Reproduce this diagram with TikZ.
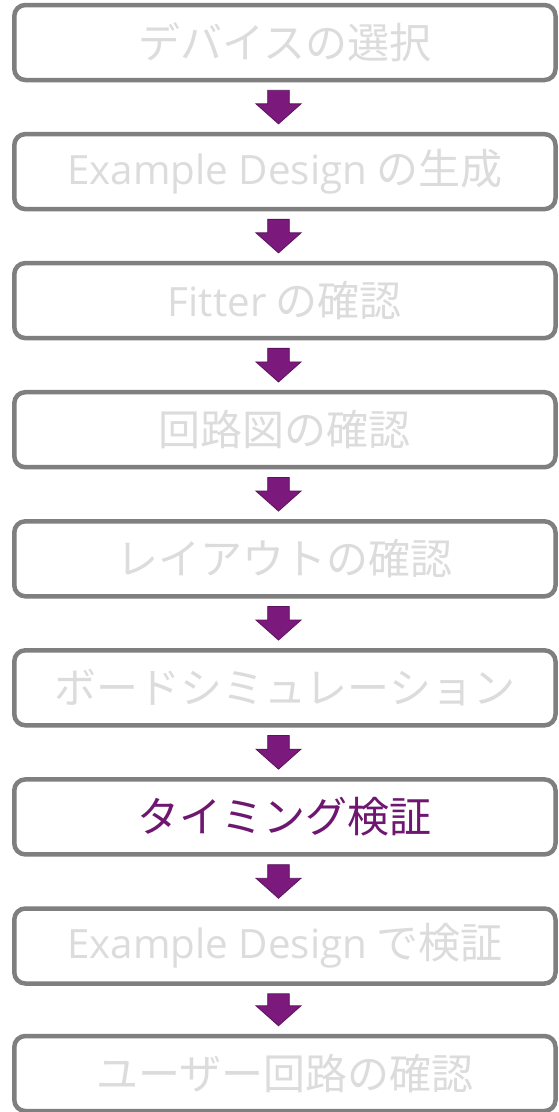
\documentclass[tikz,border=0pt]{standalone}
\usepackage{fontspec}
\setmainfont{Noto Sans CJK JP}
\newfontfamily\lat[Scale=0.96]{Open Sans}
\usetikzlibrary{calc}
\definecolor{boxgray}{HTML}{7F7F7F}
\definecolor{dimtext}{HTML}{DCDCDC}
\definecolor{activetext}{HTML}{6E1670}
\definecolor{arrowfill}{HTML}{7B1A7C}
\definecolor{arrowedge}{HTML}{5C125D}
\tikzset{
  stepbox/.style={draw=boxgray, line width=4.5pt, rounded corners=11pt, fill=white,
    minimum width=541.2pt, minimum height=75pt, inner sep=0pt,
    font=\fontsize{42}{50}\selectfont, text=dimtext},
  activebox/.style={stepbox, text=activetext},
  blockarrow/.style={fill=arrowfill, draw=arrowedge, line width=0.8pt, line join=miter}
}
\begin{document}
\begin{tikzpicture}[x=1pt,y=-1pt]
\useasboundingbox (0,0) rectangle (558,1112);
\fill[white] (0,0) rectangle (558,1112);
\node[stepbox] (b1) at (284.9, 42.5) {デバイスの選択};
\node[stepbox] (b2) at (284.9, 171.6) {{\lat Example Design} の生成};
\node[stepbox] (b3) at (284.9, 300.6) {{\lat Fitter} の確認};
\node[stepbox] (b4) at (284.9, 429.7) {回路図の確認};
\node[stepbox] (b5) at (284.9, 558.8) {レイアウトの確認};
\node[stepbox] (b6) at (284.9, 687.8) {ボードシミュレーション};
\node[activebox] (b7) at (284.9, 816.9) {タイミング検証};
\node[stepbox] (b8) at (284.9, 946.0) {{\lat Example Design} で検証};
\node[stepbox] (b9) at (284.9, 1073.5) {ユーザー回路の確認};
\foreach \i [evaluate=\i as \j using int(\i+1)] in {1,...,8} {
  \path (b\i.south) ++(-6.4,8) coordinate (s\i);
  \path (b\j.north) ++(-6.4,-8) coordinate (t\i);
  \draw[blockarrow] ($(s\i)+(-10.8,0)$) -- ($(s\i)+(10.8,0)$) -- ($(t\i)+(10.8,-20)$)
    -- ($(t\i)+(22.5,-20)$) -- (t\i) -- ($(t\i)+(-22.5,-20)$) -- ($(t\i)+(-10.8,-20)$) -- cycle;
}
\end{tikzpicture}
\end{document}
